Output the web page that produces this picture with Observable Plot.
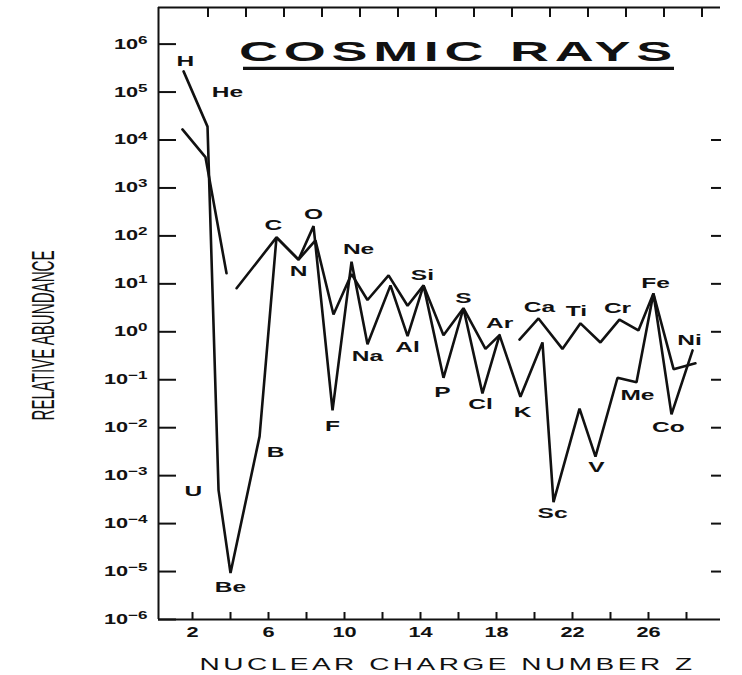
<!DOCTYPE html>
<html><head><meta charset="utf-8">
<script src="https://cdn.jsdelivr.net/npm/d3@7"></script>
<script src="https://cdn.jsdelivr.net/npm/@observablehq/plot@0.6"></script>
<style>
html,body{margin:0;padding:0;background:#fff;}
</style>
</head><body>
<div id="chart"></div>
<script>
// Series (x = nuclear charge Z as drawn, y = relative abundance)
const solarZ = [1.53, 2.79, 3.37, 4.0, 5.53, 6.42, 7.58, 8.37, 9.37, 10.37, 11.21, 12.42, 13.32, 14.16, 15.21, 16.26, 17.26, 18.16, 19.26, 20.42, 21.0, 22.37, 23.21, 24.37, 25.37, 26.26, 27.21, 28.32];
const solarValue = [2.7e5, 1.9e4, 5.0e-4, 9.3e-6, 6.6e-3, 93, 32, 160, 2.3e-2, 29, 0.55, 9.3, 0.81, 9.3, 0.11, 3.1, 0.052, 0.85, 0.044, 0.60, 2.8e-4, 0.025, 2.5e-3, 0.11, 0.089, 6.3, 0.019, 0.41];
const crZ = [1.47, 2.68, 3.79, null, 4.32, 6.42, 7.58, 8.47, 9.42, 10.37, 11.21, 12.32, 13.32, 14.16, 15.21, 16.26, 17.42, 18.16, null, 19.21, 20.21, 21.47, 22.42, 23.47, 24.47, 25.47, 26.26, 27.32, 28.47];
const crValue = [1.66e4, 4.4e3, 16.6, null, 8.1, 93, 32, 81, 2.3, 16, 4.6, 15, 3.5, 9.3, 0.85, 3.1, 0.44, 0.85, null, 0.69, 1.9, 0.44, 1.5, 0.60, 1.8, 1.07, 6.3, 0.166, 0.22];

// Element labels and where they sit (data units)
const labelText = ["H","He","U","Be","B","C","N","O","F","Ne","Na","Al","Si","P","S","Cl","Ar","K","Ca","Sc","Ti","V","Cr","Fe","Me","Co","Ni"];
const labelZ = [1.63, 3.84, 2.05, 4.0, 6.37, 6.26, 7.58, 8.37, 9.37, 10.74, 11.21, 13.32, 14.1, 15.16, 16.26, 17.16, 18.16, 19.37, 20.26, 20.95, 22.21, 23.26, 24.37, 26.37, 25.42, 27.05, 28.16];
const labelValue = [4.4e5, 9.8e4, 4.6e-4, 4.6e-6, 3.0e-3, 166, 18, 280, 0.0107, 52, 0.30, 0.48, 15, 0.055, 5.0, 0.030, 1.5, 0.021, 3.2, 1.66e-4, 2.6, 1.45e-3, 3.1, 10.2, 0.048, 0.0102, 0.66];

// Ticks
const xTickLabels = [2, 6, 10, 14, 18, 22, 26];
const xMinorTicks = [2, 4, 6, 8, 10, 12, 14, 16, 18, 20, 22, 24, 26, 28];
const yTicks = [1e-6, 1e-5, 1e-4, 1e-3, 1e-2, 1e-1, 1e0, 1e1, 1e2, 1e3, 1e4, 1e5, 1e6];
const rightTicks = [1e-5, 1e-4, 1e-3, 1e-2, 1e-1, 1e0, 1e1, 1e2, 1e3, 1e4];

const titleText = "COSMIC RAYS";
const xLabel = "NUCLEAR CHARGE NUMBER Z";
const yLabel = "RELATIVE ABUNDANCE";

const xDomain = [0.21, 29.79];
const yDomain = [1e-6, 5.8e6];

const solar = solarZ.map((z, i) => ({z, v: solarValue[i]}));
const cr = crZ.map((z, i) => ({z, v: crValue[i]}));
const labels = labelText.map((t, i) => ({t, z: labelZ[i], v: labelValue[i]}));

const ink = "#111";
const font = "'Liberation Sans', Arial, Helvetica, sans-serif";

const svg = Plot.plot({
  width: 742, height: 675,
  marginLeft: 158, marginRight: 22, marginTop: 7, marginBottom: 56,
  x: {domain: xDomain, axis: null, label: null},
  y: {type: "log", domain: yDomain, axis: null, label: null},
  style: {fontFamily: font, background: "#fff", color: ink},
  marks: [
    Plot.ruleX([xDomain[0]], {stroke: ink, strokeWidth: 2}),
    Plot.ruleY([yDomain[0]], {stroke: ink, strokeWidth: 2}),
    Plot.ruleY([yDomain[1]], {stroke: ink, strokeWidth: 2}),
    Plot.axisY(yTicks, {anchor: "left", tickSize: -18, tickPadding: 29, label: null, strokeWidth: 2,
      tickFormat: d => "10^" + Math.round(Math.log10(d)), fontSize: 14, fontWeight: "bold"}),
    Plot.axisY(rightTicks, {anchor: "right", tickSize: -10, label: null, strokeWidth: 2, tickFormat: () => ""}),
    Plot.axisX(xMinorTicks, {anchor: "bottom", tickSize: -7, label: null, strokeWidth: 2, tickFormat: () => ""}),
    Plot.axisX(xMinorTicks, {anchor: "top", tickSize: -9, label: null, strokeWidth: 2, dx: 15.5, tickFormat: () => ""}),
    Plot.axisX(xTickLabels, {anchor: "bottom", tickSize: 0, tickPadding: 7, label: null, fontSize: 15, fontWeight: "bold"}),
    Plot.line(solar, {x: "z", y: "v", stroke: ink, strokeWidth: 2.6, strokeLinejoin: "miter"}),
    Plot.line(cr, {x: "z", y: "v", stroke: ink, strokeWidth: 2.6, strokeLinejoin: "miter"}),
    Plot.text(labels, {x: "z", y: "v", text: "t", fontSize: 14, fontWeight: "bold", fill: ink}),
    Plot.text([titleText], {text: d => d, frameAnchor: "top", lineAnchor: "middle", textAnchor: "middle", dx: 19, dy: 45, fontSize: 28, fontWeight: "bold", fill: ink}),
    Plot.text([xLabel], {text: d => d, frameAnchor: "bottom", lineAnchor: "middle", textAnchor: "middle", dx: 8, dy: 45, fontSize: 16, fill: ink}),
    Plot.text([yLabel], {text: d => d, frameAnchor: "left", lineAnchor: "middle", textAnchor: "middle", rotate: -90, dx: -115, dy: 22, fontSize: 32, fill: ink})
  ]
});

document.getElementById("chart").append(svg);
const root = d3.select(svg);

// superscript exponents on y tick labels
root.selectAll('g[aria-label="y-axis tick label"] text').each(function() {
  const s = this.textContent;
  if (!s.startsWith("10^")) return;
  const e = s.slice(3).replace("-", "\u2212");
  this.textContent = "";
  const t = d3.select(this);
  t.append("tspan").text("10");
  t.append("tspan").attr("dy", "-0.45em").attr("font-size", 11).text(e);
});

function stretchNode(node, factor, exact) {
  if (!node.textContent) return;
  const L = node.getComputedTextLength();
  const target = exact != null ? exact : L * factor;
  node.setAttribute("textLength", target);
  node.setAttribute("lengthAdjust", "spacingAndGlyphs");
}
root.selectAll('g[aria-label="y-axis tick label"] text').each(function() { stretchNode(this, 1.55); });
root.selectAll('g[aria-label="x-axis tick label"] text').each(function() { stretchNode(this, 1.45); });

let titleNode = null;
root.selectAll("text").each(function() {
  const s = this.textContent;
  if (s === titleText) {
    this.setAttribute("letter-spacing", 3);
    stretchNode(this, 1, 439);
    titleNode = this;
  } else if (s === xLabel) {
    this.setAttribute("letter-spacing", 2);
    stretchNode(this, 1, 496);
  } else if (s === yLabel) {
    stretchNode(this, 1, 170);
  } else if (labelText.includes(s)) {
    stretchNode(this, 1.75);
  }
});

// underline beneath the title
if (titleNode) {
  const r = titleNode.getBoundingClientRect();
  const s = svg.getBoundingClientRect();
  const bottom = r.bottom - s.top;
  root.append("line")
    .attr("x1", r.left - s.left + 4).attr("x2", r.right - s.left - 4)
    .attr("y1", bottom + 1).attr("y2", bottom + 1)
    .attr("stroke", ink).attr("stroke-width", 3.2);
}
</script>
</body></html>
